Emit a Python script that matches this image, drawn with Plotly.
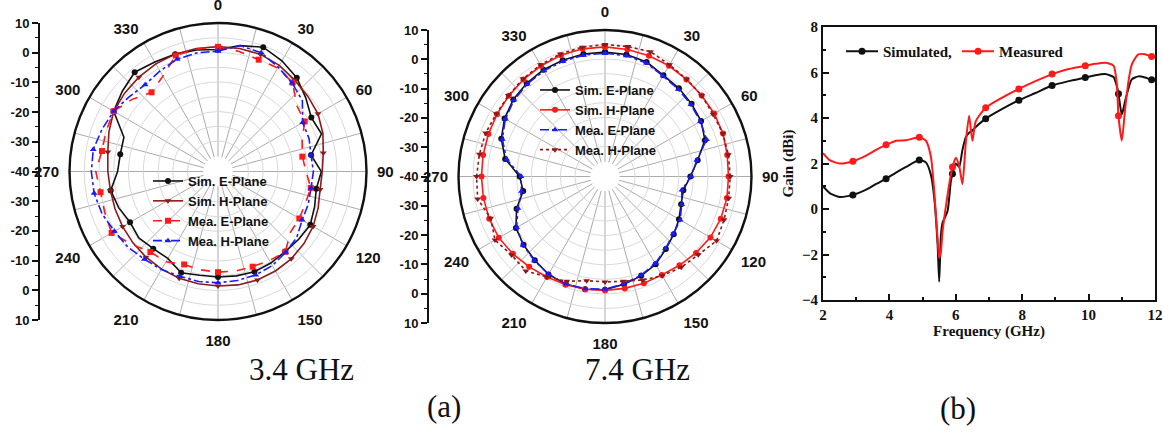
import plotly.graph_objects as go

W, H = 1163, 432

# ---------------- data ----------------
angles = list(range(0, 360, 10))

# Panel (a) left: 3.4 GHz
p1_sim_e = [1.0, 3.0, 4.5, 3.0, 1.2, -1.5, -3.8, -3.0, -8.3, -5.3, -6.5, -5.5, -4.2, -4.6, -4.9, -4.5, -4.2, -4.4,
            -4.6, -4.6, -3.8, -6.3, -6.2, -5.3, -5.9, -4.5, -3.4, -6.3, -6.7, -6.4, 0.5, 2.0, 3.6, 2.5, 2.0, 1.5]
p1_sim_h = [2.0, 2.0, 1.9, 1.2, 0.1, -0.6, -1.2, -2.5, -4.1, -5.0, -5.2, -4.2, -3.1, -2.3, -1.7, -1.4, -1.2, -1.3,
            -1.5, -1.7, -1.8, -2.1, -2.4, -2.7, -3.0, -3.2, -3.3, -3.0, -2.4, -1.0, 0.5, 1.0, 1.4, 1.8, 2.0, 2.0]
p1_mea_e = [1.9, 1.0, 0.0, 0.2, -1.0, -5.5, -6.4, -10.0, -11.3, -10.5, -8.4, -8.8, -8.5, -8.3, -4.8, -5.5, -6.0, -6.1,
            -6.2, -6.5, -6.8, -5.0, -4.7, -2.0, 1.3, 0.5, 0.1, 1.1, -0.4, 0.0, 0.5, -2.3, -5.3, -3.0, 1.5, 1.8]
p1_mea_h = [0.5, 3.0, 2.5, 0.5, -1.2, -3.0, -7.2, -7.5, -8.3, -8.0, -8.3, -7.8, -7.4, -5.5, -4.6, -3.5, -3.0, -2.8,
            -2.6, -2.5, -2.5, -2.0, -1.5, -0.5, 0.2, 1.5, 2.3, 2.6, 2.6, 1.5, 0.5, -1.0, -1.9, -1.0, 0.2, 0.5]

# Panel (a) right: 7.4 GHz
p2_sim_e = [2.4, 2.2, 1.5, -0.2, -0.8, -1.5, -2.2, -3.8, -8.0, -11.0, -13.0, -12.5, -11.0, -9.5, -7.8, -5.5, -4.0, -2.7,
            -1.4, -1.0, -1.0, -1.5, -2.8, -3.8, -5.0, -8.0, -11.8, -11.0, -5.5, -2.4, -0.5, 0.8, 1.5, 2.0, 2.2, 2.4]
p2_sim_h = [4.2, 4.0, 3.8, 3.6, 3.2, 3.0, 3.0, 2.8, 2.3, 2.1, 2.2, 2.0, 1.5, 0.5, -0.5, -1.3, -1.3, -1.3,
            -1.2, -1.0, -0.8, -0.5, 0.2, 1.0, 1.8, 2.0, 2.1, 2.1, 2.2, 2.3, 2.5, 2.8, 3.2, 3.6, 4.0, 4.2]
p2_mea_e = [2.0, 1.8, 1.2, -0.5, -1.2, -1.8, -2.5, -3.2, -8.3, -10.8, -13.5, -12.3, -10.5, -9.7, -8.0, -5.8, -4.2, -2.9,
            -1.6, -1.2, -1.0, -1.6, -2.6, -3.6, -5.3, -8.5, -11.2, -11.5, -6.0, -2.8, -0.8, 0.5, 1.2, 1.6, 1.8, 2.0]
p2_mea_h = [5.0, 5.0, 5.3, 4.0, 3.3, 3.0, 2.5, 2.8, 2.7, 2.7, 2.8, 3.2, 3.9, 1.5, 0.4, -1.0, -2.5, -3.8,
            -4.1, -4.0, -2.0, -0.5, 2.0, 1.6, 3.3, 1.5, 4.1, 3.8, 3.5, 3.3, 2.8, 3.0, 3.5, 4.0, 4.5, 4.8]

# Panel (b): gain vs frequency
freq = [2.0, 2.2, 2.5, 2.9, 3.3, 3.6, 3.9, 4.2, 4.5, 4.9, 5.1, 5.25, 5.35, 5.45, 5.5, 5.55, 5.6, 5.75, 5.85, 5.9,
        6.0, 6.1, 6.2, 6.3, 6.4, 6.5, 6.6, 6.9, 7.4, 7.9, 8.4, 8.9, 9.4, 9.9, 10.2, 10.5, 10.75, 10.85, 10.9,
        11.0, 11.1, 11.2, 11.3, 11.5, 11.7, 11.9, 12.0]
gain_sim = [1.0, 0.7, 0.53, 0.62, 0.85, 1.1, 1.33, 1.6, 1.85, 2.15, 2.05, 1.5, 0.5, -1.5, -3.2, -1.2, -0.6, -0.1, 1.2,
            1.55, 2.0, 1.85, 2.6, 3.15, 3.35, 3.45, 3.6, 3.97, 4.4, 4.78, 5.1, 5.43, 5.62, 5.78, 5.88, 5.93, 5.8,
            5.4, 5.07, 4.15, 4.75, 5.3, 5.7, 5.83, 5.78, 5.68, 5.68]
gain_mea = [2.45, 2.15, 2.0, 2.1, 2.35, 2.6, 2.82, 3.0, 3.02, 3.15, 3.0, 2.3, 0.8, -1.3, -2.15, -1.9, -1.0, 0.6, 1.5,
            1.85, 2.25, 1.9, 1.1, 2.9, 4.1, 3.0, 3.85, 4.45, 4.9, 5.28, 5.62, 5.93, 6.15, 6.3, 6.38, 6.43, 6.3,
            5.5, 4.1, 3.0, 4.4, 5.6, 6.35, 6.8, 6.8, 6.7, 6.68]
marker_freqs = [2.9, 3.9, 4.9, 5.9, 6.9, 7.9, 8.9, 9.9, 10.9, 11.9]

axis_ticks = [10, 0, -10, -20, -30, -40, -30, -20, -10, 0, 10]
angle_ticks = list(range(0, 360, 15))

# ---------------- styles ----------------
SANS = "Liberation Sans, Arial, sans-serif"
SERIF = "Liberation Serif, Times New Roman, serif"
TRANSP = "rgba(0,0,0,0)"
INK = "#111111"

fig = go.Figure()


def closed(v):
    return list(v) + [v[0]]


def polar_trace(vals, name, color, dash, symbol, subplot, legend, step):
    th = closed(angles)
    colors = [color if (i % step == 0) else TRANSP for i in range(len(th))]
    fig.add_trace(go.Scatterpolar(
        r=closed(vals), theta=th, name=name, subplot=subplot, legend=legend,
        mode="lines+markers",
        line=dict(color=color, width=1.6, dash=dash),
        marker=dict(color=colors, size=6, symbol=symbol, line=dict(width=0)),
    ))


polar_trace(p1_sim_e, "Sim. E-Plane", INK, "solid", "circle", "polar", "legend", 2)
polar_trace(p1_sim_h, "Sim. H-Plane", "#8b1a1a", "solid", "triangle-down", "polar", "legend", 2)
polar_trace(p1_mea_e, "Mea. E-Plane", "#ff1a1a", "dash", "square", "polar", "legend", 2)
polar_trace(p1_mea_h, "Mea. H-Plane", "#1a1aff", "dashdot", "triangle-up", "polar", "legend", 2)

polar_trace(p2_sim_e, "Sim. E-Plane", INK, "solid", "circle", "polar2", "legend2", 1)
polar_trace(p2_sim_h, "Sim. H-Plane", "#ff1a1a", "solid", "circle", "polar2", "legend2", 1)
polar_trace(p2_mea_e, "Mea. E-Plane", "#1a1aff", "dashdot", "triangle-up", "polar2", "legend2", 1)
polar_trace(p2_mea_h, "Mea. H-Plane", "#8b1a1a", "dot", "triangle-down", "polar2", "legend2", 1)

# empty traces so the frame-only subplots get drawn
for sp in ["polar3", "polar4"]:
    fig.add_trace(go.Scatterpolar(r=[None], theta=[None], subplot=sp, showlegend=False, hoverinfo="skip"))
for xa, ya in [("x2", "y2"), ("x3", "y3")]:
    fig.add_trace(go.Scatter(x=[None], y=[None], xaxis=xa, yaxis=ya, showlegend=False, hoverinfo="skip"))

# line chart: curves (no legend) + markers
for vals, name, color in [(gain_sim, "Simulated,", INK), (gain_mea, "Measured", "#ff1a1a")]:
    fig.add_trace(go.Scatter(
        x=freq, y=vals, mode="lines", line=dict(color=color, width=2, shape="spline", smoothing=0.6),
        showlegend=False, xaxis="x", yaxis="y", hoverinfo="skip"))
    mx = [f for f in freq if f in marker_freqs]
    my = [v for f, v in zip(freq, vals) if f in marker_freqs]
    fig.add_trace(go.Scatter(
        x=mx, y=my, mode="markers", marker=dict(color=color, size=7, symbol="circle"),
        showlegend=False, xaxis="x", yaxis="y"))
    fig.add_trace(go.Scatter(
        x=[None], y=[None], mode="lines+markers", name=name, legend="legend3",
        line=dict(color=color, width=2), marker=dict(color=color, size=7),
        xaxis="x", yaxis="y"))

grid_r = [-35, -30, -25, -20, -15, -10, -5, 0, 5]


def dom(x0, x1, ytop, ybot):
    return dict(x=[x0 / W, x1 / W], y=[(H - ybot) / H, (H - ytop) / H])


def polar_layout(x0, x1, ytop, ybot):
    return dict(
        domain=dom(x0, x1, ytop, ybot),
        bgcolor="white",
        hole=0.1,
        radialaxis=dict(range=[-35.3, 10], tickvals=grid_r, showticklabels=False, ticks="",
                        showline=False, gridcolor="#d9d9d9", gridwidth=1),
        angularaxis=dict(rotation=90, direction="clockwise", tickmode="array",
                         tickvals=angle_ticks,
                         ticktext=[str(a) if a % 30 == 0 else "" for a in angle_ticks],
                         gridcolor="#ababab", gridwidth=1, showline=False,
                         ticks="outside", ticklen=7, tickcolor=TRANSP,
                         tickfont=dict(family=SANS, size=15, color=INK, weight="bold")),
    )


def frame_layout(x0, x1, ytop, ybot):
    return dict(
        domain=dom(x0, x1, ytop, ybot),
        bgcolor=TRANSP,
        radialaxis=dict(range=[0, 1], visible=False, showgrid=False),
        angularaxis=dict(showline=True, linecolor=INK, linewidth=2.4, showgrid=False,
                         showticklabels=False, ticks=""),
    )


def side_axis(anchor, ytop, ybot):
    return dict(
        domain=[(H - ybot) / H, (H - ytop) / H], range=[-50, 50], anchor=anchor,
        tickmode="array", tickvals=list(range(50, -51, -10)), ticktext=[str(t) for t in axis_ticks],
        ticks="outside", ticklen=6, tickwidth=1.5, tickcolor=INK,
        showline=True, linecolor=INK, linewidth=2, showgrid=False, zeroline=False,
        tickfont=dict(family=SANS, size=13, color=INK, weight="bold"),
        minor=dict(tickvals=list(range(45, -50, -10)), ticks="outside", ticklen=3, tickwidth=1.2,
                   tickcolor=INK, showgrid=False),
    )


P1 = (69.5, 366.5, 23, 320)
P2 = (458.5, 751.5, 30, 323)

fig.update_layout(
    width=W, height=H, margin=dict(l=0, r=0, t=0, b=0, autoexpand=False),
    paper_bgcolor="white", plot_bgcolor="white",
    polar=polar_layout(*P1),
    polar2=polar_layout(*P2),
    polar3=frame_layout(*P1),
    polar4=frame_layout(*P2),
    xaxis2=dict(domain=[40 / W, 41 / W], visible=False, anchor="y2", range=[0, 1]),
    yaxis2=side_axis("x2", 23, 320),
    xaxis3=dict(domain=[429 / W, 430 / W], visible=False, anchor="y3", range=[0, 1]),
    yaxis3=side_axis("x3", 30, 323),
    xaxis=dict(domain=[823 / W, 1155 / W], range=[2, 12], anchor="y",
               tickvals=[2, 4, 6, 8, 10, 12], ticks="inside", ticklen=6, tickwidth=1.5, tickcolor=INK,
               showline=True, mirror=True, linecolor=INK, linewidth=2, showgrid=False, zeroline=False,
               tickfont=dict(family=SERIF, size=15, color=INK, weight="bold"),
               minor=dict(tickvals=[3, 5, 7, 9, 11], ticks="inside", ticklen=3, tickcolor=INK),
               title=dict(text="Frequency (GHz)", standoff=2,
                          font=dict(family=SERIF, size=15, color=INK, weight="bold"))),
    yaxis=dict(domain=[(H - 300) / H, (H - 27) / H], range=[-4, 8], anchor="x",
               tickvals=[-4, -2, 0, 2, 4, 6, 8], ticks="inside", ticklen=6, tickwidth=1.5, tickcolor=INK,
               showline=True, mirror=True, linecolor=INK, linewidth=2, showgrid=False, zeroline=False,
               tickfont=dict(family=SERIF, size=15, color=INK, weight="bold"),
               minor=dict(tickvals=[-3, -1, 1, 3, 5, 7], ticks="inside", ticklen=3, tickcolor=INK),
               title=dict(text="Gain (dBi)", standoff=5,
                          font=dict(family=SERIF, size=15, color=INK, weight="bold"))),
    legend=dict(x=148 / W, y=(H - 166) / H, xanchor="left", yanchor="top", bgcolor=TRANSP,
                itemwidth=30, tracegroupgap=0,
                font=dict(family=SANS, size=13, color=INK, weight="bold")),
    legend2=dict(x=535 / W, y=(H - 75) / H, xanchor="left", yanchor="top", bgcolor=TRANSP,
                 itemwidth=30, tracegroupgap=0,
                 font=dict(family=SANS, size=13, color=INK, weight="bold")),
    legend3=dict(x=841 / W, y=(H - 35) / H, xanchor="left", yanchor="top", bgcolor=TRANSP,
                 orientation="h", itemwidth=32,
                 font=dict(family=SERIF, size=15, color=INK, weight="bold")),
    annotations=[
        dict(text="3.4 GHz", x=247 / W, y=(H - 369) / H, xref="paper", yref="paper", showarrow=False,
             yanchor="middle", font=dict(family=SERIF, size=31, color=INK)),
        dict(text="7.4 GHz", x=637 / W, y=(H - 369) / H, xref="paper", yref="paper", showarrow=False,
             yanchor="middle", font=dict(family=SERIF, size=31, color=INK)),
        dict(text="(a)", x=444 / W, y=(H - 406) / H, xref="paper", yref="paper", showarrow=False,
             yanchor="middle", font=dict(family=SERIF, size=31, color=INK)),
        dict(text="(b)", x=978 / W, y=(H - 408) / H, xref="paper", yref="paper", showarrow=False,
             yanchor="middle", font=dict(family=SERIF, size=31, color=INK)),
    ],
)

fig.write_html("out.html")
